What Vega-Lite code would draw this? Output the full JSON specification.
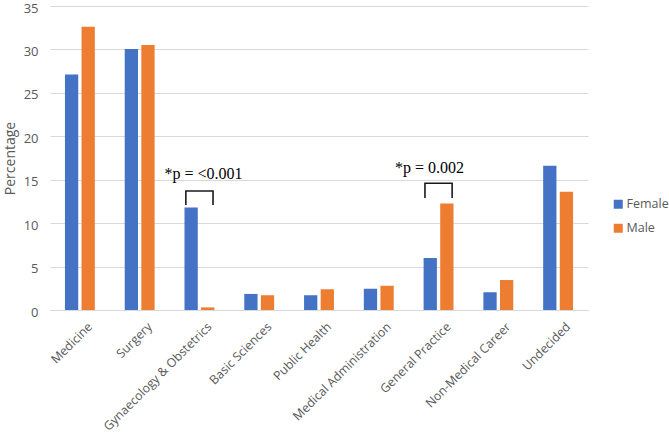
{
  "$schema": "https://vega.github.io/schema/vega-lite/v6.json",
  "width": 538,
  "height": 304,
  "autosize": "none",
  "padding": {"left": 50, "top": 6, "right": 81, "bottom": 126},
  "background": "white",
  "config": {
    "view": {"stroke": null},
    "font": "Open Sans"
  },
  "resolve": {"scale": {"xOffset": "independent"}},
  "datasets": {
    "bars": [
      {"career": "Medicine", "gender": "Female", "pct": 27.1},
      {"career": "Medicine", "gender": "Male", "pct": 32.6},
      {"career": "Surgery", "gender": "Female", "pct": 30.05},
      {"career": "Surgery", "gender": "Male", "pct": 30.5},
      {"career": "Gynaecology & Obstetrics", "gender": "Female", "pct": 11.8},
      {"career": "Gynaecology & Obstetrics", "gender": "Male", "pct": 0.3},
      {"career": "Basic Sciences", "gender": "Female", "pct": 1.85},
      {"career": "Basic Sciences", "gender": "Male", "pct": 1.7},
      {"career": "Public Health", "gender": "Female", "pct": 1.7},
      {"career": "Public Health", "gender": "Male", "pct": 2.4},
      {"career": "Medical Administration", "gender": "Female", "pct": 2.45},
      {"career": "Medical Administration", "gender": "Male", "pct": 2.8},
      {"career": "General Practice", "gender": "Female", "pct": 6.0},
      {"career": "General Practice", "gender": "Male", "pct": 12.25},
      {"career": "Non-Medical Career", "gender": "Female", "pct": 2.05},
      {"career": "Non-Medical Career", "gender": "Male", "pct": 3.45},
      {"career": "Undecided", "gender": "Female", "pct": 16.6},
      {"career": "Undecided", "gender": "Male", "pct": 13.6}
    ],
    "brackets": [
      {"career": "Gynaecology & Obstetrics", "gender": "Female", "y": 12.1, "ord": 1},
      {"career": "Gynaecology & Obstetrics", "gender": "Female", "y": 13.7, "ord": 2},
      {"career": "Gynaecology & Obstetrics", "gender": "Male", "y": 13.7, "ord": 3},
      {"career": "Gynaecology & Obstetrics", "gender": "Male", "y": 12.1, "ord": 4},
      {"career": "General Practice", "gender": "Female", "y": 12.9, "ord": 1},
      {"career": "General Practice", "gender": "Female", "y": 14.6, "ord": 2},
      {"career": "General Practice", "gender": "Male", "y": 14.6, "ord": 3},
      {"career": "General Practice", "gender": "Male", "y": 12.9, "ord": 4}
    ],
    "labels": [
      {"career": "Gynaecology & Obstetrics", "y": 15.65, "text": "*p = <0.001"},
      {"career": "General Practice", "y": 16.4, "text": "*p = 0.002"}
    ]
  },
  "encoding": {
    "x": {
      "field": "career",
      "type": "nominal",
      "sort": null,
      "scale": {
        "domain": ["Medicine", "Surgery", "Gynaecology & Obstetrics", "Basic Sciences", "Public Health", "Medical Administration", "General Practice", "Non-Medical Career", "Undecided"],
        "paddingInner": 0.5,
        "paddingOuter": 0.25
      },
      "axis": {
        "title": null,
        "labelAngle": -45,
        "labelAlign": "right",
        "labelBaseline": "top",
        "labelFontSize": 12.3,
        "labelColor": "#595959",
        "labelPadding": 10,
        "labelOffset": 6,
        "labelLimit": 250,
        "ticks": false,
        "domainColor": "#d9d9d9",
        "domainWidth": 1,
        "grid": false
      }
    }
  },
  "layer": [
    {
      "data": {"name": "bars"},
      "mark": {"type": "bar"},
      "encoding": {
        "xOffset": {"field": "gender", "type": "nominal", "scale": {"paddingInner": 0.2}},
        "y": {
          "field": "pct",
          "type": "quantitative",
          "scale": {"domain": [0, 35], "nice": false},
          "axis": {
            "title": "Percentage",
            "titleFontSize": 14,
            "titleFontWeight": "normal",
            "titleColor": "#595959",
            "titlePadding": 6,
            "values": [0, 5, 10, 15, 20, 25, 30, 35],
            "labelFontSize": 13,
            "labelColor": "#595959",
            "labelPadding": 12,
            "labelOffset": 2,
            "ticks": false,
            "domain": false,
            "gridColor": "#d9d9d9",
            "gridWidth": 1
          }
        },
        "color": {
          "field": "gender",
          "type": "nominal",
          "scale": {"domain": ["Female", "Male"], "range": ["#4472C4", "#ED7D31"]},
          "legend": {
            "title": null,
            "orient": "none",
            "legendX": 562,
            "legendY": 192,
            "symbolType": "square",
            "symbolSize": 81,
            "symbolStrokeWidth": 0,
            "labelFontSize": 12.5,
            "labelColor": "#595959",
            "rowPadding": 11,
            "labelOffset": 2
          }
        }
      }
    },
    {
      "data": {"name": "brackets"},
      "mark": {"type": "line", "color": "#1a1a1a", "strokeWidth": 1.6},
      "encoding": {
        "xOffset": {"field": "gender", "type": "nominal", "scale": {"type": "point", "padding": 0.05}},
        "y": {"field": "y", "type": "quantitative"},
        "detail": {"field": "career"},
        "order": {"field": "ord", "type": "quantitative"}
      }
    },
    {
      "data": {"name": "labels"},
      "transform": [{"filter": "datum.career === 'Gynaecology & Obstetrics'"}],
      "mark": {"type": "text", "font": "Liberation Serif", "fontSize": 16, "color": "black", "dx": 4},
      "encoding": {
        "y": {"field": "y", "type": "quantitative"},
        "text": {"field": "text"}
      }
    },
    {
      "data": {"name": "labels"},
      "transform": [{"filter": "datum.career === 'General Practice'"}],
      "mark": {"type": "text", "font": "Liberation Serif", "fontSize": 16, "color": "black", "dx": -9},
      "encoding": {
        "y": {"field": "y", "type": "quantitative"},
        "text": {"field": "text"}
      }
    }
  ]
}
